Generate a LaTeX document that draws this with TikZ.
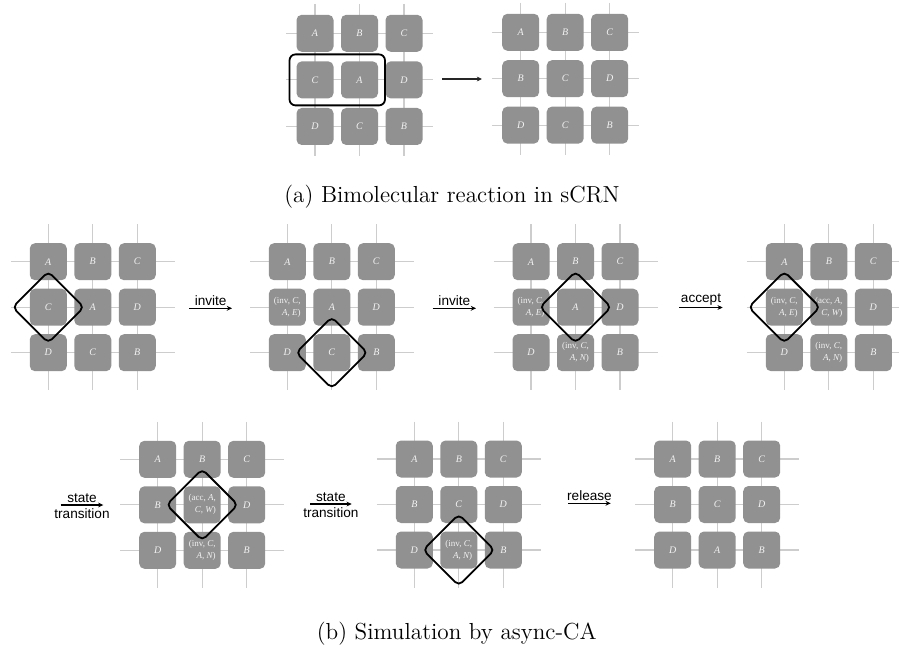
\documentclass[tikz,border=0pt]{standalone}
\usepackage{fontspec}
\newfontfamily\labelfont{Liberation Sans}
\newfontfamily\cellfont{Liberation Serif}
\usepackage{tikz}
\usetikzlibrary{arrows.meta, positioning, fit, shapes.geometric}
\tikzset{>={Stealth[length=2.6pt,width=2.4pt]}}

\definecolor{cellgray}{RGB}{145,145,145}
\definecolor{linegray}{RGB}{205,205,205}
\definecolor{textgray}{RGB}{242,242,242}

\tikzset{
  cell/.style={fill=cellgray, rounded corners=2.6pt, minimum width=18.5pt,
    minimum height=18.5pt, inner sep=0pt, text=textgray, align=right,
    font=\cellfont\itshape\fontsize{5}{6}\selectfont},
  lattice/.style={draw=linegray, line width=0.55pt},
  window/.style={draw=black, line width=0.9pt, rounded corners=3pt},
  focus/.style={diamond, draw=black, line width=0.9pt, rounded corners=2.5pt,
    minimum width=36pt, minimum height=36pt, inner sep=0pt, aspect=1},
  move/.style={->, line width=0.6pt},
  actlabel/.style={font=\labelfont\fontsize{6.8}{7.8}\selectfont, inner sep=1pt, align=center},
  caption/.style={font=\fontsize{11.6}{14}\selectfont}
}

% messages written into a cell
\newcommand\msgsize{\fontsize{4.5}{5.6}\selectfont}
\newcommand\msg[4]{\msgsize\upshape(#1, \textit{#2},\\\msgsize\textit{#3}, \textit{#4}\upshape)}

% one 3x3 block of the lattice
\def\latext{37.5}
\newcommand\cagrid[9]{%
  \foreach \k in {0,1,2} {
    \draw[lattice] (\k*44.5,-\latext) -- (\k*44.5,91+\latext);
    \draw[lattice] (-\latext,\k*45.5) -- (89+\latext,\k*45.5);
  }
  \node[cell] (c11) at (0,0) {#1};
  \node[cell] (c12) at (44.5,0) {#2};
  \node[cell] (c13) at (89,0) {#3};
  \node[cell] (c21) at (0,45.5) {#4};
  \node[cell] (c22) at (44.5,45.5) {#5};
  \node[cell] (c23) at (89,45.5) {#6};
  \node[cell] (c31) at (0,91) {#7};
  \node[cell] (c32) at (44.5,91) {#8};
  \node[cell] (c33) at (89,91) {#9};
}

\begin{document}
\begin{tikzpicture}[x=0.5pt, y=-0.5pt]
    \useasboundingbox (0,0) rectangle (899,649);

    % (a) sCRN
    \def\latext{29}
    \begin{scope}[shift={(315,33.3)}, yscale=1.024, name prefix=aL-]
        \cagrid{A}{B}{C}{C}{A}{D}{D}{C}{B}
    \end{scope}
    \begin{scope}[shift={(520.7,32.3)}, yscale=1.02, name prefix=aR-]
        \cagrid{A}{B}{C}{B}{C}{D}{D}{C}{B}
    \end{scope}
    \node[window, fit=(aL-c21)(aL-c22), inner sep=3.3pt] (swapbox) {};
    \coordinate (a0) at (442,79);
    \coordinate (a1) at (482,79);
    \draw[move, draw=black!85] (a0) -- (a1);
    \node[caption] (capa) at (452,197) {(a) Bimolecular reaction in sCRN};

    % (b) async-CA, first row
    \def\latext{37.5}
    \begin{scope}[shift={(48.3,261.7)}, name prefix=g1-]
        \cagrid{A}{B}{C}{C}{A}{D}{D}{C}{B}
        \node[focus] (win) at (c21) {};
    \end{scope}
    \begin{scope}[shift={(287.3,261.7)}, name prefix=g2-]
        \cagrid{A}{B}{C}{\msg{inv}{C}{A}{E}}{A}{D}{D}{C}{B}
        \node[focus] (win) at (c32) {};
    \end{scope}
    \begin{scope}[shift={(531,261.7)}, name prefix=g3-]
        \cagrid{A}{B}{C}{\msg{inv}{C}{A}{E}}{A}{D}{D}{\msg{inv}{C}{A}{N}}{B}
        \node[focus] (win) at (c22) {};
    \end{scope}
    \begin{scope}[shift={(784.3,261.7)}, name prefix=g4-]
        \cagrid{A}{B}{C}{\msg{inv}{C}{A}{E}}{\msg{acc}{A}{C}{W}}{D}{D}{\msg{inv}{C}{A}{N}}{B}
        \node[focus] (win) at (c21) {};
    \end{scope}

    \coordinate (s1a) at (189.3,308.3);
    \coordinate (s1b) at (232,308.3);
    \coordinate (s2a) at (432.7,308.3);
    \coordinate (s2b) at (476,308.3);
    \coordinate (s3a) at (679.3,307.5);
    \coordinate (s3b) at (722.7,307.5);
    \draw[move] (s1a) -- node[actlabel, above] (l1) {invite} (s1b);
    \draw[move] (s2a) -- node[actlabel, above] (l2) {invite} (s2b);
    \draw[move] (s3a) -- node[actlabel, above] (l3) {accept} (s3b);

    % (b) second row
    \begin{scope}[shift={(157.7,459.3)}, name prefix=g5-]
        \cagrid{A}{B}{C}{B}{\msg{acc}{A}{C}{W}}{D}{D}{\msg{inv}{C}{A}{N}}{B}
        \node[focus] (win) at (c22) {};
    \end{scope}
    \begin{scope}[shift={(414.3,459)}, name prefix=g6-]
        \cagrid{A}{B}{C}{B}{C}{D}{D}{\msg{inv}{C}{A}{N}}{B}
        \node[focus] (win) at (c32) {};
    \end{scope}
    \begin{scope}[shift={(672.7,459)}, name prefix=g7-]
        \cagrid{A}{B}{C}{B}{C}{D}{D}{A}{B}
    \end{scope}

    \coordinate (s4a) at (60.7,505);
    \coordinate (s4b) at (103.3,505);
    \coordinate (s5a) at (310,504);
    \coordinate (s5b) at (351.7,504);
    \coordinate (s6a) at (568.3,503.3);
    \coordinate (s6b) at (610.7,503.3);
    \draw[move] (s4a) -- node[actlabel, yshift=-0.6pt] (l4) {state\\transition} (s4b);
    \draw[move] (s5a) -- node[actlabel, yshift=-0.6pt] (l5) {state\\transition} (s5b);
    \draw[move] (s6a) -- node[actlabel, above] (l6) {release} (s6b);

    \node[caption] (capb) at (456.7,634) {(b) Simulation by async-CA};
\end{tikzpicture}
\end{document}
